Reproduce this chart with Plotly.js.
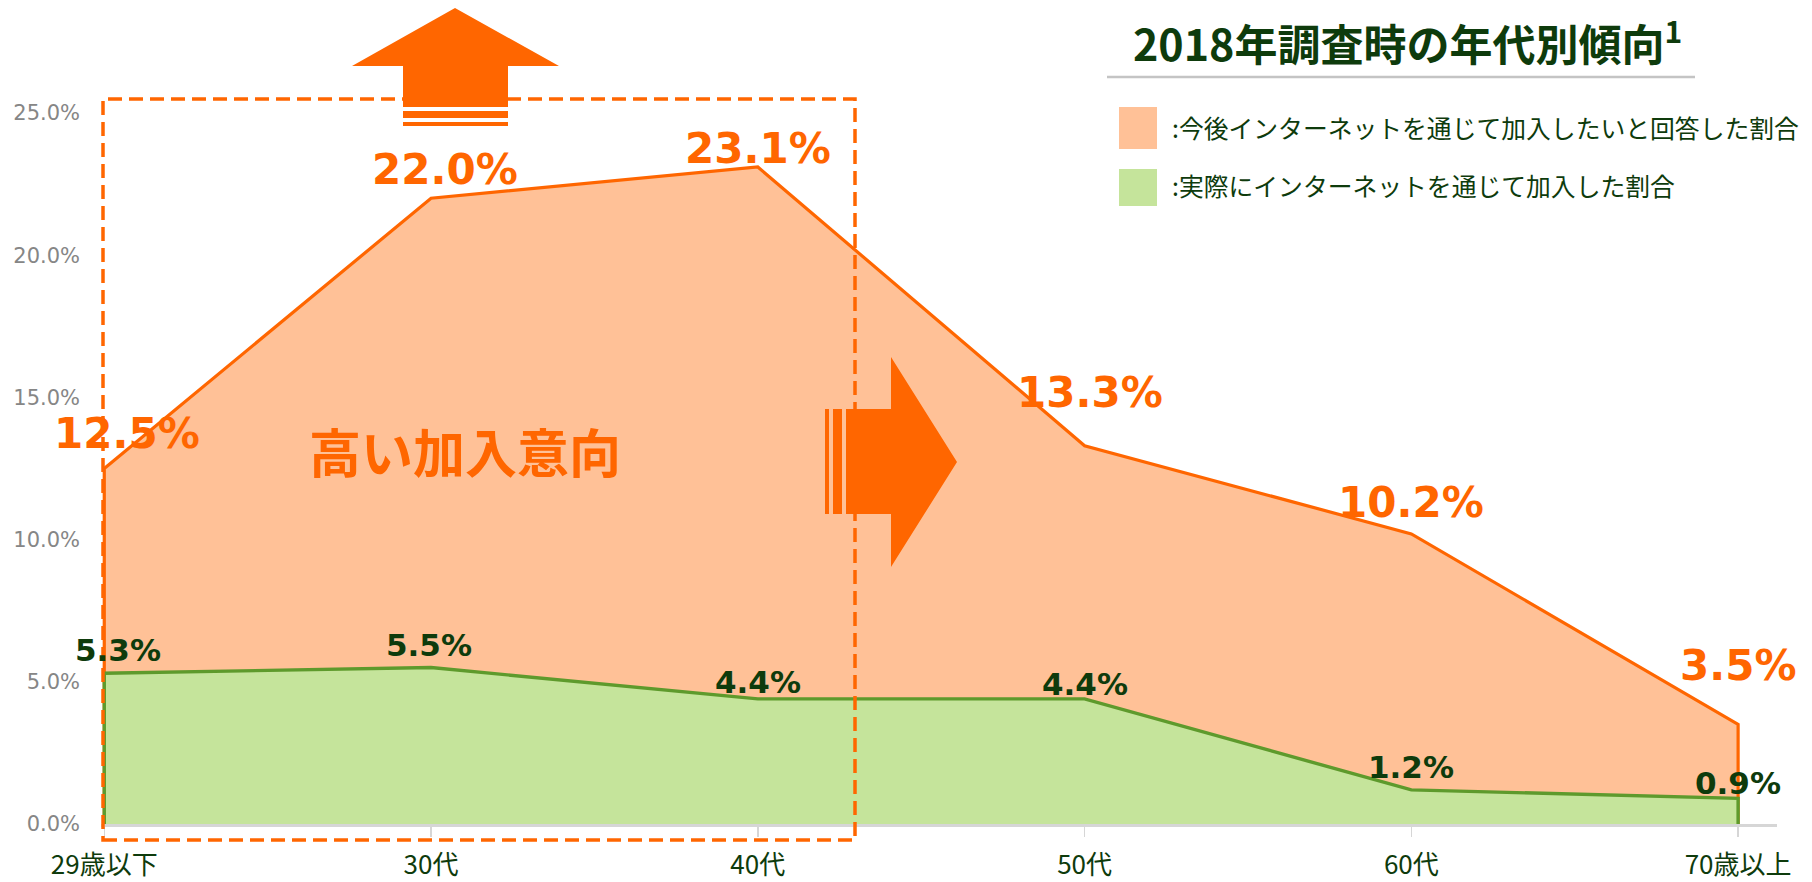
<!DOCTYPE html>
<html>
<head>
<meta charset="utf-8">
<script src="https://cdn.plot.ly/plotly-3.0.1.min.js"></script>
<style>
  html, body { margin: 0; padding: 0; background: #ffffff; }
  #chart { width: 1812px; height: 882px; }
</style>
</head>
<body>
<div id="chart"></div>
<script>
// ---------------- data ----------------
const categories = ['29歳以下', '30代', '40代', '50代', '60代', '70歳以上'];
const intentValues = [12.5, 22.0, 23.1, 13.3, 10.2, 3.5];   // 今後インターネットを通じて加入したい
const actualValues = [5.3, 5.5, 4.4, 4.4, 1.2, 0.9];        // 実際にインターネットを通じて加入した
const yTickValues = [0, 5, 10, 15, 20, 25];
const titleText = '2018年調査時の年代別傾向';
const titleNote = '1';
const legendLabels = [':今後インターネットを通じて加入したいと回答した割合', ':実際にインターネットを通じて加入した割合'];
const calloutText = '高い加入意向';

// ---------------- style ----------------
const ORANGE = '#FF6600';
const PEACH = '#FFC197';
const GREEN_LINE = '#5E9A2C';
const GREEN_FILL = '#C5E49B';
const DARK_GREEN = '#0E3B0C';
const CJK = '"Noto Sans CJK JP", "Noto Sans", sans-serif';
const NUM = '"DejaVu Sans", Verdana, sans-serif';

const W = 1812, H = 882;
const M = { l: 101, r: 35, t: 99, b: 58 };
const PW = W - M.l - M.r, PH = H - M.t - M.b;
const px = p => (p - M.l) / PW;          // pixel x -> paper x
const py = p => (M.t + PH - p) / PH;      // pixel y -> paper y

// label offsets (pixels): [dx, dy-up]
const intentShift = [[23, 35], [14, 29], [0, 18], [5, 53], [0, 31], [0, 59]];
const actualShift = [[14, 23], [-2, 23], [0, 17], [0, 15], [0, 23], [0, 15]];

const idx = categories.map((c, i) => i);
const last = idx.length - 1;
const polyX = [0].concat(idx, [last]);

const traces = [
  {
    x: polyX, y: [0].concat(intentValues, [0]),
    type: 'scatter', mode: 'lines', fill: 'toself', fillcolor: PEACH,
    line: { color: ORANGE, width: 3.2 }, hoverinfo: 'skip', showlegend: false
  },
  {
    x: polyX, y: [0].concat(actualValues, [0]),
    type: 'scatter', mode: 'lines', fill: 'toself', fillcolor: GREEN_FILL,
    line: { color: GREEN_LINE, width: 3.4 }, hoverinfo: 'skip', showlegend: false
  }
];

const annotations = [];
intentValues.forEach((v, i) => {
  annotations.push({
    x: i, y: v, xref: 'x', yref: 'y', text: v.toFixed(1) + '%', showarrow: false,
    xanchor: 'center', yanchor: 'middle', xshift: intentShift[i][0], yshift: intentShift[i][1],
    font: { family: NUM, size: 42, color: ORANGE, weight: 'bold' }
  });
});
actualValues.forEach((v, i) => {
  annotations.push({
    x: i, y: v, xref: 'x', yref: 'y', text: v.toFixed(1) + '%', showarrow: false,
    xanchor: 'center', yanchor: 'middle', xshift: actualShift[i][0], yshift: actualShift[i][1],
    font: { family: NUM, size: 31, color: DARK_GREEN, weight: 'bold' }
  });
});
// callout text
annotations.push({
  x: px(465), y: py(450), xref: 'paper', yref: 'paper', text: calloutText, showarrow: false,
  xanchor: 'center', yanchor: 'middle', font: { family: CJK, size: 52, color: ORANGE, weight: 'bold' }
});
// title
annotations.push({
  x: px(1407), y: py(41), xref: 'paper', yref: 'paper',
  text: titleText + '<sup>' + titleNote + '</sup>', showarrow: false,
  xanchor: 'center', yanchor: 'middle', font: { family: CJK, size: 43, color: DARK_GREEN, weight: 'bold' }
});
// legend texts
const legendY = [127, 185];
legendLabels.forEach((t, i) => {
  annotations.push({
    x: px(1170), y: py(legendY[i]), xref: 'paper', yref: 'paper', text: t, showarrow: false,
    xanchor: 'left', yanchor: 'middle', font: { family: CJK, size: 24.8, color: DARK_GREEN }
  });
});

function pathFrom(points) {
  return 'M ' + points.map(p => px(p[0]) + ',' + py(p[1])).join(' L ') + ' Z';
}
function rectPx(x0, y0, x1, y1, color, extra) {
  return Object.assign({
    type: 'rect', xref: 'paper', yref: 'paper', x0: px(x0), x1: px(x1), y0: py(y0), y1: py(y1),
    fillcolor: color, line: { width: 0 }, layer: 'above'
  }, extra || {});
}

const shapes = [
  // dashed highlight box
  {
    type: 'rect', xref: 'paper', yref: 'paper', x0: px(103), x1: px(855), y0: py(840), y1: py(99),
    line: { color: ORANGE, width: 3.5, dash: '14px,7px' }, fillcolor: 'rgba(0,0,0,0)', layer: 'above'
  },
  // up arrow
  {
    type: 'path', xref: 'paper', yref: 'paper', layer: 'above',
    path: pathFrom([[403, 107], [403, 66], [352, 66], [455, 8], [559, 66], [508, 66], [508, 107]]),
    fillcolor: ORANGE, line: { width: 0 }
  },
  rectPx(403, 111, 508, 118, ORANGE),
  rectPx(403, 122, 508, 126, ORANGE),
  // right arrow
  {
    type: 'path', xref: 'paper', yref: 'paper', layer: 'above',
    path: pathFrom([[846, 409], [891, 409], [891, 357], [957, 462], [891, 567], [891, 514], [846, 514]]),
    fillcolor: ORANGE, line: { width: 0 }
  },
  rectPx(825, 409, 829, 514, ORANGE),
  rectPx(833, 409, 842, 514, ORANGE),
  // title underline
  {
    type: 'line', xref: 'paper', yref: 'paper', x0: px(1107), x1: px(1695), y0: py(77), y1: py(77),
    line: { color: '#C4C4C4', width: 2.5 }
  },
  // legend swatches
  rectPx(1119, 107, 1157, 149, PEACH),
  rectPx(1119, 169, 1157, 206, GREEN_FILL)
];

const layout = {
  width: W, height: H,
  margin: M,
  paper_bgcolor: '#ffffff', plot_bgcolor: 'rgba(0,0,0,0)',
  showlegend: false,
  hovermode: false,
  xaxis: {
    range: [-0.01, 5.119],
    tickvals: idx, ticktext: categories,
    showgrid: false, zeroline: false,
    showline: true, linecolor: '#D6D6D6', linewidth: 2.5,
    ticks: 'outside', ticklen: 10, tickwidth: 1.5, tickcolor: '#D6D6D6',
    ticklabelstandoff: 6,
    tickfont: { family: CJK, size: 26, color: DARK_GREEN },
    fixedrange: true
  },
  yaxis: {
    range: [0, 25.49],
    tickvals: yTickValues,
    ticktext: yTickValues.map(v => v.toFixed(1) + '%'),
    showgrid: false, zeroline: false, showline: false, ticks: '',
    ticklabelstandoff: 20,
    tickfont: { family: NUM, size: 21, color: '#868686' },
    fixedrange: true
  },
  annotations: annotations,
  shapes: shapes
};

Plotly.newPlot('chart', traces, layout, { displayModeBar: false, staticPlot: true });
</script>
</body>
</html>
